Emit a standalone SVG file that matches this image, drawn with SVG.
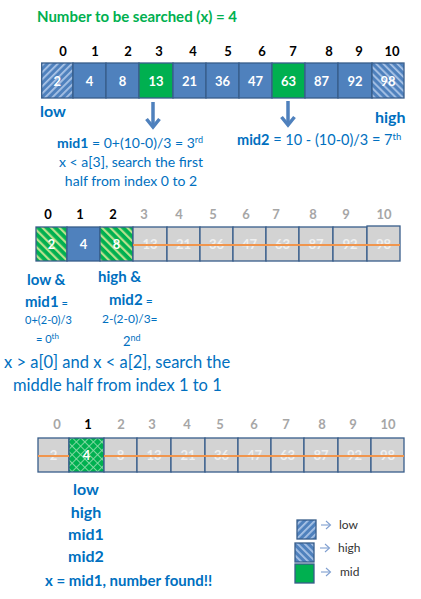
<svg xmlns="http://www.w3.org/2000/svg" width="421" height="599" viewBox="0 0 421 599">
<style>
text{font-family:Lato,"Open Sans","Liberation Sans",sans-serif}
.t{font-weight:bold;fill:#00B050;font-size:15px}
.idx{font-weight:bold;font-size:13px;text-anchor:middle;fill:#000}
.gi{fill:#A6A6A6}
.cell{stroke:#385D8A;stroke-width:1.3}
.blue{fill:#4F81BD}
.green{fill:#00B050}
.grey{fill:#D3D3D3}
.v{font-weight:bold;font-size:13px;fill:#fff;text-anchor:middle}
.gv{fill:#F0F0F0}
.b{fill:#0070C0}
.bb{fill:#0070C0;font-weight:bold}
.strike{stroke:#F0954D;stroke-width:2}
.arr{stroke:#4F81BD;stroke-width:3.5;fill:none}
.larr{stroke:#7F9FD0;stroke-width:1.1;fill:none}
.lt{font-size:12px;fill:#333}
</style>
<defs>
<pattern id="hUp" patternUnits="userSpaceOnUse" width="5" height="5" patternTransform="rotate(45)">
<rect width="5" height="5" fill="#4F81BD"/><rect width="1.8" height="5" fill="#A9C3E6"/>
</pattern>
<pattern id="hDown" patternUnits="userSpaceOnUse" width="5" height="5" patternTransform="rotate(-45)">
<rect width="5" height="5" fill="#4F81BD"/><rect width="1.8" height="5" fill="#A9C3E6"/>
</pattern>
<pattern id="gDown" patternUnits="userSpaceOnUse" width="6" height="6" patternTransform="rotate(-45)">
<rect width="6" height="6" fill="#00B050"/><rect width="2.2" height="6" fill="#B7E08E"/>
</pattern>
<pattern id="gCross" patternUnits="userSpaceOnUse" width="6" height="6" patternTransform="rotate(45)">
<rect width="6" height="6" fill="#00B050"/><rect width="0.9" height="6" fill="#8CDCA8"/><rect width="6" height="0.9" fill="#8CDCA8"/>
</pattern>
</defs>
<rect width="421" height="599" fill="#fff"/>

<text class="t" x="37" y="22">Number to be searched (x) = 4</text>

<!-- Row 1 -->
<g id="row1-index">
<text class="idx" x="63" y="56">0</text><text class="idx" x="95" y="56">1</text><text class="idx" x="128" y="56">2</text><text class="idx" x="159" y="56">3</text><text class="idx" x="193" y="56">4</text><text class="idx" x="228" y="56">5</text><text class="idx" x="262" y="56">6</text><text class="idx" x="293" y="56">7</text><text class="idx" x="329" y="56">8</text><text class="idx" x="359" y="56">9</text><text class="idx" x="392" y="56">10</text>
</g>
<g id="r1c0"><rect class="cell" fill="url(#hUp)" x="41.7" y="63" width="31.3" height="35"/><text class="v" x="57.3" y="85.5">2</text></g>
<g id="r1c1"><rect class="cell blue" x="73" y="63" width="33" height="35"/><text class="v" x="89.5" y="85.5">4</text></g>
<g id="r1c2"><rect class="cell blue" x="106" y="63" width="33" height="35"/><text class="v" x="122.5" y="85.5">8</text></g>
<g id="r1c3"><rect class="cell green" x="139" y="63" width="34" height="35"/><text class="v" x="156" y="85.5">13</text></g>
<g id="r1c4"><rect class="cell blue" x="173" y="63" width="33" height="35"/><text class="v" x="189.5" y="85.5">21</text></g>
<g id="r1c5"><rect class="cell blue" x="206" y="63" width="33" height="35"/><text class="v" x="222.5" y="85.5">36</text></g>
<g id="r1c6"><rect class="cell blue" x="239" y="63" width="33" height="35"/><text class="v" x="255.5" y="85.5">47</text></g>
<g id="r1c7"><rect class="cell green" x="272" y="63" width="33" height="35"/><text class="v" x="288.5" y="85.5">63</text></g>
<g id="r1c8"><rect class="cell blue" x="305" y="63" width="33" height="35"/><text class="v" x="321.5" y="85.5">87</text></g>
<g id="r1c9"><rect class="cell blue" x="338" y="63" width="34" height="35"/><text class="v" x="355" y="85.5">92</text></g>
<g id="r1c10"><rect class="cell" fill="url(#hDown)" x="372" y="63" width="32" height="35"/><text class="v" x="388" y="85.5">98</text></g>

<g id="connectors">
<line class="arr" x1="153" y1="102" x2="153" y2="126"/>
<path class="arr" d="M146.5,119 L153,127 L159.5,119"/>
<line class="arr" x1="288" y1="101" x2="288" y2="124"/>
<path class="arr" d="M281.5,117 L288,125 L294.5,117"/>
<line class="larr" x1="321" y1="525" x2="330" y2="525"/><path class="larr" d="M326,521 L330.5,525 L326,529"/>
<line class="larr" x1="320" y1="548" x2="329" y2="548"/><path class="larr" d="M325,544 L329.5,548 L325,552"/>
<line class="larr" x1="321" y1="572" x2="330" y2="572"/><path class="larr" d="M326,568 L330.5,572 L326,576"/>
</g>

<g id="lbl-low1"><text class="bb" x="40" y="117" font-size="16">low</text></g>
<g id="lbl-high1"><text class="bb" x="375" y="123" font-size="16">high</text></g>
<g id="lbl-mid1">
<text class="b" x="130" y="148" font-size="14" text-anchor="middle"><tspan font-weight="bold">mid1</tspan> = 0+(10-0)/3 = 3<tspan font-size="9" dy="-5">rd</tspan></text>
<text class="b" x="131" y="167" font-size="14" text-anchor="middle">x &lt; a[3], search the first</text>
<text class="b" x="131" y="186" font-size="14" text-anchor="middle">half from index 0 to 2</text>
</g>
<g id="lbl-mid2"><text class="b" x="237" y="145" font-size="14.5"><tspan font-weight="bold">mid2</tspan> = 10 - (10-0)/3 = 7<tspan font-size="9.5" dy="-5">th</tspan></text></g>

<!-- Row 2 -->
<g id="row2-index">
<text class="idx" x="48" y="219">0</text><text class="idx" x="80" y="219">1</text><text class="idx" x="113" y="219">2</text><text class="idx gi" x="144" y="219">3</text><text class="idx gi" x="179" y="219">4</text><text class="idx gi" x="213" y="219">5</text><text class="idx gi" x="246" y="219">6</text><text class="idx gi" x="276" y="219">7</text><text class="idx gi" x="313" y="219">8</text><text class="idx gi" x="346" y="219">9</text><text class="idx gi" x="384" y="219">10</text>
</g>
<g id="r2c0"><rect class="cell" fill="url(#gDown)" x="36" y="227" width="31" height="34"/><text class="v" x="51.5" y="249">2</text></g>
<g id="r2c1"><rect class="cell blue" x="67" y="227" width="33" height="34"/><text class="v" x="83.5" y="249">4</text></g>
<g id="r2c2"><rect class="cell" fill="url(#gDown)" x="100" y="227" width="33" height="34"/><text class="v" x="116.5" y="249">8</text></g>
<g id="r2c3"><rect class="cell grey" x="133" y="227" width="34" height="34"/><text class="v gv" x="150" y="249">13</text></g>
<g id="r2c4"><rect class="cell grey" x="167" y="227" width="33" height="34"/><text class="v gv" x="183.5" y="249">21</text></g>
<g id="r2c5"><rect class="cell grey" x="200" y="227" width="33" height="34"/><text class="v gv" x="216.5" y="249">36</text></g>
<g id="r2c6"><rect class="cell grey" x="233" y="227" width="33" height="34"/><text class="v gv" x="249.5" y="249">47</text></g>
<g id="r2c7"><rect class="cell grey" x="266" y="227" width="33" height="34"/><text class="v gv" x="282.5" y="249">63</text></g>
<g id="r2c8"><rect class="cell grey" x="299" y="227" width="34" height="34"/><text class="v gv" x="316" y="249">87</text></g>
<g id="r2c9"><rect class="cell grey" x="333" y="227" width="34" height="34"/><text class="v gv" x="350" y="249">92</text></g>
<g id="r2c10"><rect class="cell grey" x="367" y="226" width="33" height="35"/><text class="v gv" x="383.5" y="249">98</text></g>
<line class="strike" x1="133" y1="245" x2="400" y2="245"/>

<g id="lbl-row2-low">
<text class="bb" x="27" y="285" font-size="15">low &amp;</text>
<text class="b" x="25" y="307"><tspan font-weight="bold" font-size="15">mid1</tspan><tspan font-size="11"> =</tspan></text>
<text class="b" x="48.5" y="324" font-size="11" text-anchor="middle">0+(2-0)/3</text>
<text class="b" x="36" y="343" font-size="11">= 0<tspan font-size="8" dy="-4">th</tspan></text>
</g>
<g id="lbl-row2-high">
<text class="bb" x="98" y="282" font-size="15">high &amp;</text>
<text class="b" x="109" y="305"><tspan font-weight="bold" font-size="15">mid2</tspan><tspan font-size="12"> =</tspan></text>
<text class="b" x="102" y="323" font-size="12">2-(2-0)/3=</text>
<text class="b" x="123" y="346" font-size="13">2<tspan font-size="9" dy="-5">nd</tspan></text>
</g>
<g id="lbl-row2-note">
<text class="b" x="4" y="368" font-size="16.5">x &gt; a[0] and x &lt; a[2], search the</text>
<text class="b" x="13" y="391" font-size="16.5">middle  half from index 1 to 1</text>
</g>

<!-- Row 3 -->
<g id="row3-index">
<text class="idx gi" x="57" y="429">0</text><text class="idx" x="88" y="429">1</text><text class="idx gi" x="121" y="429">2</text><text class="idx gi" x="152" y="429">3</text><text class="idx gi" x="187" y="429">4</text><text class="idx gi" x="220" y="429">5</text><text class="idx gi" x="254" y="429">6</text><text class="idx gi" x="286" y="429">7</text><text class="idx gi" x="322" y="429">8</text><text class="idx gi" x="353" y="429">9</text><text class="idx gi" x="388" y="429">10</text>
</g>
<g id="r3c0"><rect class="cell grey" x="38" y="438" width="31" height="34"/><text class="v gv" x="53.5" y="460">2</text></g>
<g id="r3c1"><rect class="cell" fill="url(#gCross)" x="69" y="438" width="35" height="34"/><text class="v" x="86.5" y="460">4</text></g>
<g id="r3c2"><rect class="cell grey" x="104" y="438" width="33" height="34"/><text class="v gv" x="120.5" y="460">8</text></g>
<g id="r3c3"><rect class="cell grey" x="137" y="438" width="34" height="34"/><text class="v gv" x="154" y="460">13</text></g>
<g id="r3c4"><rect class="cell grey" x="171" y="438" width="34" height="34"/><text class="v gv" x="188" y="460">21</text></g>
<g id="r3c5"><rect class="cell grey" x="205" y="438" width="33" height="34"/><text class="v gv" x="221.5" y="460">36</text></g>
<g id="r3c6"><rect class="cell grey" x="238" y="438" width="33" height="34"/><text class="v gv" x="254.5" y="460">47</text></g>
<g id="r3c7"><rect class="cell grey" x="271" y="438" width="33" height="34"/><text class="v gv" x="287.5" y="460">63</text></g>
<g id="r3c8"><rect class="cell grey" x="304" y="438" width="34" height="34"/><text class="v gv" x="321" y="460">87</text></g>
<g id="r3c9"><rect class="cell grey" x="338" y="438" width="33" height="34"/><text class="v gv" x="354.5" y="460">92</text></g>
<g id="r3c10"><rect class="cell grey" x="371" y="438" width="33" height="34"/><text class="v gv" x="387.5" y="460">98</text></g>
<line class="strike" x1="38" y1="456" x2="69" y2="456"/>
<line class="strike" x1="104" y1="456" x2="404" y2="456"/>

<g id="lbl-row3">
<text class="bb" x="86" y="495" font-size="16" text-anchor="middle">low</text>
<text class="bb" x="86" y="518" font-size="16" text-anchor="middle">high</text>
<text class="bb" x="86" y="540" font-size="16" text-anchor="middle">mid1</text>
<text class="bb" x="86" y="562" font-size="16" text-anchor="middle">mid2</text>
<text class="bb" x="45" y="586" font-size="15">x = mid1, number found!!</text>
</g>

<!-- Legend -->
<g id="legend-low"><rect class="cell" fill="url(#hUp)" x="297" y="520" width="19" height="19"/><text class="lt" x="339" y="529">low</text></g>
<g id="legend-high"><rect class="cell" fill="url(#hDown)" x="295" y="543" width="19" height="19"/><text class="lt" x="338" y="552">high</text></g>
<g id="legend-mid"><rect class="cell green" x="295" y="564" width="19" height="19"/><text class="lt" x="340" y="576">mid</text></g>
</svg>
